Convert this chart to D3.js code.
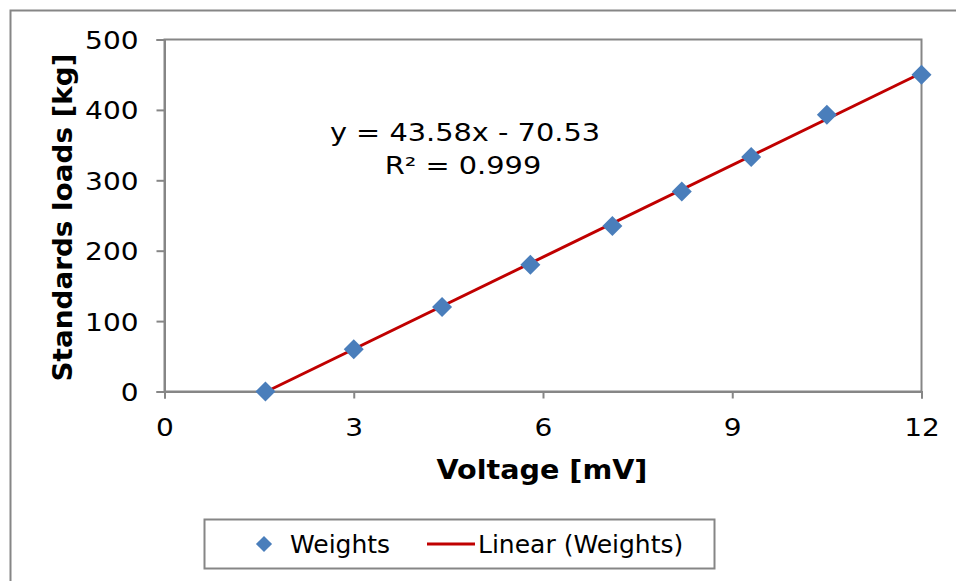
<!DOCTYPE html>
<html>
<head>
<meta charset="utf-8">
<script src="https://cdn.jsdelivr.net/npm/d3@7"></script>
<style>
  body { margin: 0; background: #fff; }
  svg text { font-family: "DejaVu Sans", Verdana, sans-serif; fill: #000; }
</style>
</head>
<body>
<svg id="chart" width="956" height="581"></svg>
<script>
// data
const voltage = [1.6, 3.0, 4.4, 5.8, 7.1, 8.2, 9.3, 10.5, 12.0];
const loads = [0, 60, 120, 180, 235, 284, 333, 393, 450];
const xTicks = [0, 3, 6, 9, 12];
const yTicks = [0, 100, 200, 300, 400, 500];
const slope = 43.58, intercept = -70.53;

const svg = d3.select("#chart");
const grey = "#868686";

// the source picture is a bit stretched sideways, so widen text a little
function widen(sel, k) {
    sel.each(function() {
        const w = this.getComputedTextLength();
        d3.select(this).attr("textLength", w * k).attr("lengthAdjust", "spacingAndGlyphs");
    });
}

// outer chart frame (runs off the bottom/right of the picture)
svg.append("rect")
    .attr("x", 10.5).attr("y", 10.5)
    .attr("width", 960).attr("height", 600)
    .attr("fill", "none").attr("stroke", grey).attr("stroke-width", 2);

const plot = { left: 164.5, right: 921.5, top: 39.5, bottom: 391.5 };

const x = d3.scaleLinear().domain([0, 12]).range([plot.left, plot.right]);
const y = d3.scaleLinear().domain([0, 500]).range([plot.bottom, plot.top]);

// plot area border
svg.append("rect")
    .attr("x", plot.left).attr("y", plot.top)
    .attr("width", plot.right - plot.left).attr("height", plot.bottom - plot.top)
    .attr("fill", "none").attr("stroke", grey).attr("stroke-width", 2);

const xAxis = svg.append("g")
    .attr("transform", `translate(0,${plot.bottom})`)
    .call(d3.axisBottom(x).tickValues(xTicks).tickSize(7).tickPadding(20).tickFormat(d3.format("d")));
const yAxis = svg.append("g")
    .attr("transform", `translate(${plot.left},0)`)
    .call(d3.axisLeft(y).tickValues(yTicks).tickSize(8).tickPadding(18).tickFormat(d3.format("d")));

[xAxis, yAxis].forEach(a => {
    a.select(".domain").attr("stroke", grey).attr("stroke-width", 2);
    a.selectAll(".tick line").attr("stroke", grey).attr("stroke-width", 2);
    a.selectAll(".tick text").style("font-size", "25px").attr("fill", "#000");
    widen(a.selectAll(".tick text"), 1.12);
});
yAxis.selectAll(".tick text").attr("dy", "0.36em");

// axis titles
const xTitle = svg.append("text")
    .attr("x", 542).attr("y", 479)
    .attr("text-anchor", "middle")
    .style("font-size", "26px").style("font-weight", "bold")
    .text("Voltage [mV]");
widen(xTitle, 1.1);

const yTitle = svg.append("text")
    .attr("transform", `translate(72,${(plot.top + plot.bottom) / 2 + 2}) rotate(-90)`)
    .attr("text-anchor", "middle")
    .style("font-size", "26px").style("font-weight", "bold")
    .text("Standards loads [kg]");
widen(yTitle, 1.07);

// trendline across the data range
const xMin = d3.min(voltage), xMax = d3.max(voltage);
const xStart = Math.max(xMin, -intercept / slope);
svg.append("line")
    .attr("x1", x(xStart)).attr("y1", y(slope * xStart + intercept))
    .attr("x2", x(xMax)).attr("y2", y(slope * xMax + intercept))
    .attr("stroke", "#c00000").attr("stroke-width", 3);

// diamonds
const diamond = d3.symbol().type(d3.symbolSquare).size(200);
svg.selectAll(".pt")
    .data(voltage.map((v, i) => ({ v, w: loads[i] })))
    .join("path")
    .attr("class", "pt")
    .attr("d", diamond)
    .attr("transform", d => `translate(${x(d.v)},${y(d.w)}) rotate(45)`)
    .attr("fill", "#4a7ebb");

// equation label
const eq1 = svg.append("text")
    .attr("x", 465).attr("y", 141)
    .attr("text-anchor", "middle")
    .style("font-size", "24px")
    .text(`y = ${slope}x - ${Math.abs(intercept)}`);
widen(eq1, 1.2);
const eq2 = svg.append("text")
    .attr("x", 463).attr("y", 174)
    .attr("text-anchor", "middle")
    .style("font-size", "24px")
    .text("R² = 0.999");
widen(eq2, 1.2);

// legend
const legend = svg.append("g");
legend.append("rect")
    .attr("x", 204.5).attr("y", 519.5).attr("width", 510).attr("height", 49)
    .attr("fill", "none").attr("stroke", grey).attr("stroke-width", 2);
legend.append("path")
    .attr("d", d3.symbol().type(d3.symbolSquare).size(130))
    .attr("transform", "translate(264,544) rotate(45)")
    .attr("fill", "#4a7ebb");
legend.append("text")
    .attr("x", 290).attr("y", 553)
    .style("font-size", "25px")
    .text("Weights");
legend.append("line")
    .attr("x1", 427).attr("x2", 475).attr("y1", 544).attr("y2", 544)
    .attr("stroke", "#c00000").attr("stroke-width", 3);
legend.append("text")
    .attr("x", 478).attr("y", 553)
    .style("font-size", "25px")
    .text("Linear (Weights)");
</script>
</body>
</html>
